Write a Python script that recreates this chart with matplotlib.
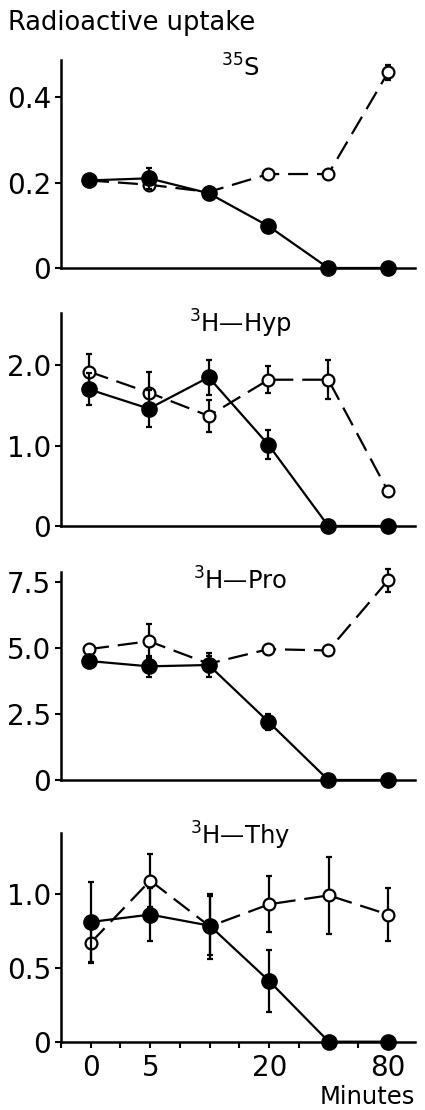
import numpy as np
import matplotlib
matplotlib.use("Agg")
import matplotlib.pyplot as plt

# ---- data ----
time_labels = ["0", "5", "10", "20", "40", "80"]
shown_labels = ["0", "5", "20", "80"]
panel_names = [r"$^{35}$S", r"$^{3}$H—Hyp", r"$^{3}$H—Pro", r"$^{3}$H—Thy"]

s35_filled = [0.205, 0.21, 0.175, 0.098, 0.0, 0.0]
s35_filled_err = [0.008, 0.025, 0.01, 0.008, 0.0, 0.0]
s35_open = [0.205, 0.195, 0.178, 0.22, 0.22, 0.458]
s35_open_err = [0.008, 0.01, 0.01, 0.005, 0.005, 0.018]

hyp_filled = [1.70, 1.46, 1.85, 1.01, 0.0, 0.0]
hyp_filled_err = [0.2, 0.23, 0.22, 0.18, 0.0, 0.0]
hyp_open = [1.92, 1.66, 1.37, 1.82, 1.82, 0.43]
hyp_open_err = [0.22, 0.25, 0.2, 0.17, 0.24, 0.03]

pro_filled = [4.5, 4.3, 4.35, 2.2, 0.0, 0.0]
pro_filled_err = [0.15, 0.4, 0.45, 0.3, 0.0, 0.0]
pro_open = [4.95, 5.25, 4.4, 4.95, 4.9, 7.55]
pro_open_err = [0.1, 0.65, 0.3, 0.05, 0.05, 0.45]

thy_filled = [0.81, 0.86, 0.785, 0.41, 0.0, 0.0]
thy_filled_err = [0.27, 0.18, 0.2, 0.21, 0.0, 0.0]
thy_open = [0.67, 1.09, 0.78, 0.93, 0.99, 0.86]
thy_open_err = [0.14, 0.18, 0.22, 0.19, 0.26, 0.18]

yticks = [[0, 0.2, 0.4], [0, 1.0, 2.0], [0, 2.5, 5.0, 7.5], [0, 0.5, 1.0]]
yticklabels = [["0", "0.2", "0.4"], ["0", "1.0", "2.0"],
               ["0", "2.5", "5.0", "7.5"], ["0", "0.5", "1.0"]]
ytops = [0.487, 2.65, 7.88, 1.41]

filled_series = [s35_filled, hyp_filled, pro_filled, thy_filled]
filled_errs = [s35_filled_err, hyp_filled_err, pro_filled_err, thy_filled_err]
open_series = [s35_open, hyp_open, pro_open, thy_open]
open_errs = [s35_open_err, hyp_open_err, pro_open_err, thy_open_err]

# ---- layout ----
W, H = 425, 1110
fig = plt.figure(figsize=(W / 100, H / 100), dpi=100)
left, right = 61, 415
panel_px = [(60, 268), (313, 526), (571.7, 780), (833.3, 1041.7)]
label_y = [0.92, 0.91, 0.915, 0.945]

x = np.arange(len(time_labels))
lw = 1.6

for i, (top, bot) in enumerate(panel_px):
    ax = fig.add_axes([left / W, 1 - bot / H, (right - left) / W, (bot - top) / H])
    # open series (dashed)
    ax.errorbar(x, open_series[i], yerr=open_errs[i], fmt="none", ecolor="black",
                elinewidth=1.6, capsize=2, capthick=1.6, zorder=2, clip_on=False)
    ax.plot(x, open_series[i], color="black", lw=lw, linestyle=(0, (9, 4)),
            marker="o", markersize=8.5, markerfacecolor="white",
            markeredgecolor="black", markeredgewidth=1.6, zorder=3, clip_on=False)
    # filled series (solid)
    ax.errorbar(x, filled_series[i], yerr=filled_errs[i], fmt="none", ecolor="black",
                elinewidth=1.6, capsize=2, capthick=1.6, zorder=4, clip_on=False)
    ax.plot(x, filled_series[i], color="black", lw=lw, linestyle="-",
            marker="o", markersize=11, markerfacecolor="black",
            markeredgecolor="black", zorder=5, clip_on=False)

    ax.set_xlim(-0.47, 5.45)
    ax.set_ylim(0, ytops[i])
    ax.spines["top"].set_visible(False)
    ax.spines["right"].set_visible(False)
    ax.spines["left"].set_linewidth(1.8)
    ax.spines["bottom"].set_linewidth(1.8)
    ax.set_yticks(yticks[i])
    ax.set_yticklabels(yticklabels[i])
    ax.tick_params(axis="y", direction="out", length=4, width=1.5, labelsize=20, pad=3)
    ax.text(0.506, label_y[i], panel_names[i], transform=ax.transAxes,
            ha="center", va="baseline", fontsize=17.5)
    if i < 3:
        ax.set_xticks([])
    else:
        major = [time_labels.index(t) for t in shown_labels]
        ax.set_xticks(major)
        ax.set_xticklabels(shown_labels)
        ax.set_xticks(np.arange(-0.5, 5.5, 0.5), minor=True)
        ax.tick_params(axis="x", which="major", direction="out", length=4, width=1.5,
                       labelsize=20, pad=5)
        ax.tick_params(axis="x", which="minor", direction="out", length=4, width=1.5)

fig.text(8 / W, 1 - 30 / H, "Radioactive uptake", ha="left", va="baseline", fontsize=18.5)
fig.text(415 / W, 1 - 1104 / H, "Minutes", ha="right", va="baseline", fontsize=17.5)

fig.savefig("out.png", dpi=100)
